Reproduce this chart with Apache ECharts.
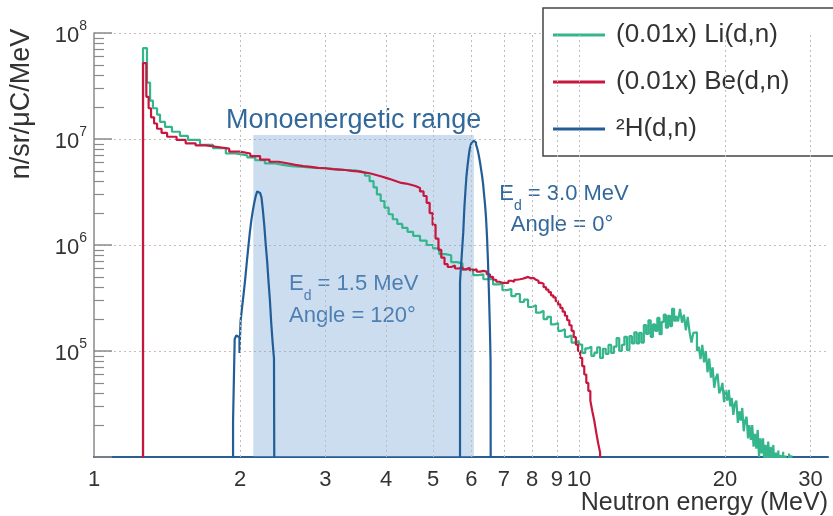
<!DOCTYPE html>
<html><head><meta charset="utf-8">
<script src="https://cdn.jsdelivr.net/npm/echarts@6/dist/echarts.min.js"></script>
<style>html,body{margin:0;padding:0;background:#fff}#c{width:833px;height:516px}</style>
</head><body><div id="c"></div>
<script>
// ---- data (bin low edges in MeV, contents in n/sr/uC/MeV; last entry = end edge, 0) ----
const liE = [1.262,1.286,1.305,1.323,1.349,1.368,1.401,1.448,1.504,1.562,1.654,1.760,1.870,1.960,2.07,2.15,2.25,2.35,2.45,2.55,2.70,2.85,3.00,3.15,3.30,3.45,3.55,3.62,3.70,3.77,3.83,3.90,3.97,4.05,4.13,4.22,4.32,4.43,4.55,4.70,4.85,
 5.00,5.15,5.30,5.45,5.60,5.75,5.90,6.05,6.20,6.35,6.50,6.65,6.80,6.95,7.10,7.25,7.40,7.55,7.70,7.85,8.00,8.15,8.30,8.45,8.60,8.75,8.90,9.05,9.20,9.35,9.50,9.65,9.80,
 10.00,10.15,10.30,10.45,10.60,10.75,10.90,11.05,11.20,11.35,11.50,11.65,11.80,11.95,12.10,12.25,12.40,12.55,12.70,12.85,13.00,13.15,13.30,13.45,13.60,13.75,13.90,14.05,14.20,14.35,14.50,14.65,14.80,14.95,15.10,15.25,15.40,15.55,15.70,15.85,16.00,16.15,16.30,16.45,16.60,16.75,16.90,17.05,17.20,17.35,17.50,17.65,17.80,17.95,18.10,18.25,18.40,18.55,18.70,18.85,19.00,19.15,19.30,19.45,19.60,19.75,19.90,20.05,20.20,20.35,20.50,20.65,20.80,20.95,21.10,21.25,21.40,21.55,21.70,21.85,22.00,22.15,22.30,22.45,22.60,22.75,22.90,23.05,23.20,23.35,23.50,23.65,23.80,23.95,24.10,24.25,24.40,24.55,24.70,24.85,25.00,25.15,25.30,25.45,25.60,25.75,25.90,26.05,26.20,26.35,26.50,26.65,26.80,26.95,27.10,27.25,27.40,27.55];
const liV = [7.2e7,3.4e7,2.3e7,1.95e7,1.7e7,1.45e7,1.3e7,1.17e7,1.07e7,9.8e6,8.8e6,8.2e6,7.3e6,7.0e6,6.7e6,6.3e6,5.9e6,5.7e6,5.55e6,5.45e6,5.35e6,5.3e6,5.2e6,5.1e6,5.05e6,4.95e6,4.8e6,4.5e6,4.0e6,3.5e6,3.0e6,2.6e6,2.25e6,1.95e6,1.75e6,1.58e6,1.45e6,1.33e6,1.22e6,1.1e6,1.0e6,
 9.3e5,8.2e5,8.0e5,6.9e5,6.7e5,5.9e5,5.9e5,5.2e5,5.3e5,4.75e5,4.8e5,4.25e5,4.3e5,3.75e5,3.85e5,3.3e5,3.45e5,2.9e5,3.05e5,2.6e5,2.7e5,2.3e5,2.4e5,2.0e5,2.1e5,1.78e5,1.84e5,1.55e5,1.6e5,1.36e5,1.4e5,1.2e5,1.24e5,
 1.15e5,9.6e4,1.06e5,1.10e5,9.0e4,9.6e4,1.08e5,8.6e4,1.05e5,9.4e4,1.14e5,9.6e4,1.10e5,1.32e5,1.0e5,1.14e5,1.36e5,1.02e5,1.38e5,1.18e5,1.5e5,1.18e5,1.48e5,1.2e5,1.76e5,1.45e5,1.95e5,1.36e5,1.78e5,1.55e5,2.05e5,1.44e5,1.88e5,2.2e5,1.66e5,2.15e5,1.72e5,2.5e5,1.93e5,2.15e5,1.9e5,2.5e5,1.85e5,2.2e5,1.57e5,2.1e5,1.5e5,1.2e5,1.48e5,1.5e5,1.0e5,1.1e5,8.4e4,1.14e5,7.8e4,1.0e5,6.3e4,8.5e4,5.6e4,7.0e4,4.5e4,5.6e4,6.1e4,4.0e4,4.3e4,5.0e4,3.3e4,4.3e4,3.4e4,4.3e4,3.0e4,3.6e4,2.5e4,3.2e4,3.4e4,2.1e4,2.7e4,2.2e4,2.9e4,1.75e4,2.2e4,2.4e4,1.5e4,2.0e4,1.45e4,2.0e4,1.25e4,1.65e4,1.2e4,1.8e4,1.0e4,1.5e4,1.08e4,1.5e4,8.5e3,1.3e4,9e3,1.4e4,7e3,1.25e4,8e3,1.3e4,6e3,1.1e4,7e3,1.15e4,5e3,1.05e4,4e3,1.12e4,3e3,1.03e4,2e3,2e3,1.08e4,2e3,1.04e4,0];

const beE = [1.262,1.282,1.296,1.311,1.330,1.349,1.378,1.415,1.480,1.545,1.620,1.700,1.800,1.900,2.000,2.100,2.200,2.300,2.400,2.500,2.600,2.700,2.800,2.900,3.000,3.100,3.200,3.300,3.400,3.500,3.600,3.700,3.800,3.900,4.000,4.100,4.200,4.300,4.400,4.500,4.600,4.700,4.780,4.850,4.920,4.990,5.060,5.130,5.200,5.280,5.360,5.450,5.550,5.650,5.750,5.850,5.950,6.050,6.150,6.250,6.350,6.450,6.550,6.650,6.750,6.850,6.950,7.050,7.150,7.250,7.350,7.450,7.550,7.650,7.750,7.850,7.950,8.050,8.150,8.250,8.350,8.450,8.550,8.650,8.750,8.850,8.950,9.050,9.150,9.250,9.350,9.450,9.550,9.650,9.750,9.850,9.950,10.05,10.15,10.25,10.35,10.45,10.55,10.65,10.75,10.85,10.95,11.05,11.15];
const beV = [5.2e7,2.5e7,1.95e7,1.6e7,1.4e7,1.25e7,1.14e7,1.05e7,9.8e6,9.1e6,8.7e6,8.4e6,8.1e6,7.6e6,7.3e6,6.9e6,6.4e6,6.1e6,5.9e6,5.7e6,5.55e6,5.45e6,5.35e6,5.3e6,5.2e6,5.15e6,5.1e6,5.0e6,4.95e6,4.85e6,4.75e6,4.6e6,4.45e6,4.3e6,4.15e6,4.0e6,3.85e6,3.8e6,3.7e6,3.6e6,3.45e6,3.2e6,2.9e6,2.5e6,2.0e6,1.55e6,1.15e6,9.0e5,7.6e5,6.6e5,6.2e5,6.4e5,6.0e5,6.2e5,5.9e5,6.1e5,5.8e5,5.9e5,5.6e5,5.7e5,5.6e5,5.3e5,5.0e5,4.7e5,4.5e5,4.4e5,4.4e5,4.4e5,4.6e5,4.5e5,4.7e5,4.75e5,4.8e5,4.9e5,5.0e5,4.85e5,4.9e5,4.7e5,4.6e5,4.4e5,4.3e5,4.0e5,3.8e5,3.6e5,3.35e5,3.2e5,2.95e5,2.75e5,2.55e5,2.35e5,2.15e5,1.95e5,1.75e5,1.55e5,1.35e5,1.15e5,1.0e5,8.6e4,7.2e4,6.0e4,5.0e4,4.2e4,3.4e4,2.7e4,2.2e4,1.7e4,1.35e4,1.1e4,0];

const hE = [1.935,1.950,1.965,1.980,1.995,2.005,2.020,2.035,2.050,2.065,2.080,2.095,2.110,2.125,2.140,2.155,2.170,2.185,2.200,2.215,2.230,2.245,2.260,2.275,2.290,2.305,2.320,2.335,2.350,2.366,
 5.683,5.730,5.770,5.800,5.830,5.860,5.890,5.920,5.950,5.980,6.010,6.040,6.070,6.100,6.130,6.160,6.190,6.220,6.250,6.280,6.310,6.340,6.370,6.400,6.430,6.460,6.490,6.520,6.550,6.570,6.590];
const hV = [2.2e4,1.3e5,1.4e5,1.35e5,9.6e4,1.9e5,2.6e5,3.5e5,4.8e5,6.8e5,9.5e5,1.3e6,1.7e6,2.1e6,2.5e6,2.9e6,3.2e6,3.1e6,3.2e6,2.8e6,2.1e6,1.5e6,1.0e6,7e5,4.5e5,3.0e5,1.8e5,1.2e5,8.5e4,0,
 4.5e5,8.0e5,1.3e6,2.2e6,3.2e6,4.5e6,5.6e6,6.8e6,8.0e6,8.8e6,9.3e6,9.6e6,9.2e6,9.3e6,8.9e6,8.3e6,7.6e6,6.8e6,6.0e6,5.2e6,4.5e6,3.8e6,3.0e6,2.4e6,1.8e6,1.2e6,7e5,3.5e5,1.6e5,8e4,0];

const monoRange = [2.13, 6.07];   // shaded monoenergetic energy range (MeV)
const monoTop = 1.09e7;
const xTicks = [1,2,3,4,5,6,7,8,9,10,20,30];
const xGrid = [2,3,4,5,6,7,8,9,10,20,30];
const yMinor = [2e4,3e4,4e4,5e4,6e4,7e4,8e4,9e4,2e5,3e5,4e5,5e5,6e5,7e5,8e5,9e5,2e6,3e6,4e6,5e6,6e6,7e6,8e6,9e6,2e7,3e7,4e7,5e7,6e7,7e7,8e7,9e7];
const names = ['(0.01x) Li(d,n)', '(0.01x) Be(d,n)', '²H(d,n)'];

// ---- chart ----
const FLOOR = 1; // zero bins drawn below the log axis (clipped)
function hist(E, V) {
  const d = [[E[0], FLOOR]];
  for (let i = 0; i < E.length; i++) d.push([E[i], V[i] > 0 ? V[i] : FLOOR]);
  return d;
}
const FONT = 'Liberation Sans, Arial, Helvetica, sans-serif';
const TXT = '#333';
const ANN = '#33689b';
const GRIDC = '#bdbdbd';
const chart = echarts.init(document.getElementById('c'), null, {renderer: 'canvas'});
const lineSeries = (name, color, E, V) => ({
  name, type: 'line', step: 'end', data: hist(E, V), showSymbol: false, symbol: 'none',
  color, lineStyle: {color, width: 2.2}, clip: true, z: 3, animation: false
});
chart.setOption({
  animation: false,
  grid: {left: 94, right: 5, top: 33, bottom: 59, containLabel: false},
  xAxis: {
    type: 'log', logBase: 10, min: 1, max: 32.6,
    axisLine: {show: true, lineStyle: {color: '#2a5f96', width: 2}},
    axisTick: {show: false, customValues: xTicks},
    axisLabel: {customValues: xTicks, fontSize: 22, color: TXT, fontFamily: FONT, margin: 12},
    splitLine: {show: false},
    minorTick: {show: false},
    name: 'Neutron energy (MeV)', nameLocation: 'end', nameGap: 0,
    nameTextStyle: {fontSize: 25, color: TXT, fontFamily: FONT, align: 'right', verticalAlign: 'top', padding: [34, 0, 0, 0]}
  },
  yAxis: [{
    type: 'log', logBase: 10, min: 1e4, max: 1e8,
    axisLine: {show: true, lineStyle: {color: '#8a8a8a', width: 1.5}},
    axisTick: {show: true, inside: true, length: 18, lineStyle: {color: '#8a8a8a', width: 1.5}},
    axisLabel: {
      margin: 7, color: TXT,
      formatter: v => { const e = Math.round(Math.log10(v)); return e === 4 ? '' : '{b|10}{s|' + e + '}'; },
      rich: {
        b: {fontSize: 22, fontFamily: FONT, color: TXT, lineHeight: 28, verticalAlign: 'bottom'},
        s: {fontSize: 14, fontFamily: FONT, color: TXT, verticalAlign: 'top'}
      }
    },
    splitLine: {show: true, lineStyle: {color: '#c9bcbc', type: [2, 3], width: 1}}
  }, {
    type: 'log', logBase: 10, min: 1e4, max: 1e8, position: 'left',
    axisLine: {show: false},
    axisTick: {show: true, inside: true, length: 10, customValues: yMinor, lineStyle: {color: '#8a8a8a', width: 1.2}},
    axisLabel: {show: false},
    splitLine: {show: false}
  }],
  legend: {
    data: names, orient: 'vertical', left: 543, top: 8,
    padding: [12, 110, 12, 10], itemGap: 17, itemWidth: 52, itemHeight: 3, icon: 'rect',
    backgroundColor: '#fff', borderColor: '#444', borderWidth: 1.5, selectedMode: false,
    textStyle: {fontSize: 26, color: TXT, fontFamily: FONT, lineHeight: 30, padding: [0, 0, 0, 6]}
  },
  series: [
    {type: 'line', data: [], z: 1, silent: true,
     markArea: {silent: true, itemStyle: {color: 'rgba(120,165,215,0.38)'},
       data: [[{xAxis: monoRange[0], yAxis: 1e4}, {xAxis: monoRange[1], yAxis: monoTop}]]},
     markLine: {silent: true, symbol: ['none', 'none'], label: {show: false},
       lineStyle: {color: GRIDC, type: [2, 3], width: 1},
       data: xGrid.map(v => ({xAxis: v}))}},
    lineSeries(names[0], '#34b58b', liE, liV),
    lineSeries(names[1], '#c8173f', beE, beV),
    lineSeries(names[2], '#225d98', hE, hV)
  ],
  graphic: [
    {type: 'text', x: 22, y: 104, rotation: Math.PI / 2,
     style: {text: 'n/sr/μC/MeV', font: '27px ' + FONT, fill: TXT, align: 'center', verticalAlign: 'middle'}},
    {type: 'text', x: 226, y: 121,
     style: {text: 'Monoenergetic range', font: '27px ' + FONT, fill: ANN, align: 'left', verticalAlign: 'middle'}},
    {type: 'text', x: 289, y: 288,
     style: {text: '{a|E}{d|d}{a| = 1.5 MeV}', align: 'left', verticalAlign: 'middle', fill: ANN,
       rich: {a: {fontSize: 22, fontFamily: FONT, color: ANN, lineHeight: 26, verticalAlign: 'top'},
              d: {fontSize: 14, fontFamily: FONT, color: ANN, lineHeight: 30, verticalAlign: 'bottom'}}}},
    {type: 'text', x: 289, y: 316,
     style: {text: 'Angle = 120°', font: '22px ' + FONT, fill: ANN, align: 'left', verticalAlign: 'middle'}},
    {type: 'text', x: 564, y: 198,
     style: {text: '{a|E}{d|d}{a| = 3.0 MeV}', align: 'center', verticalAlign: 'middle', fill: ANN,
       rich: {a: {fontSize: 22, fontFamily: FONT, color: ANN, lineHeight: 26, verticalAlign: 'top'},
              d: {fontSize: 14, fontFamily: FONT, color: ANN, lineHeight: 30, verticalAlign: 'bottom'}}}},
    {type: 'text', x: 562, y: 225,
     style: {text: 'Angle = 0°', font: '22px ' + FONT, fill: ANN, align: 'center', verticalAlign: 'middle'}}
  ]
});
</script>
</body></html>
